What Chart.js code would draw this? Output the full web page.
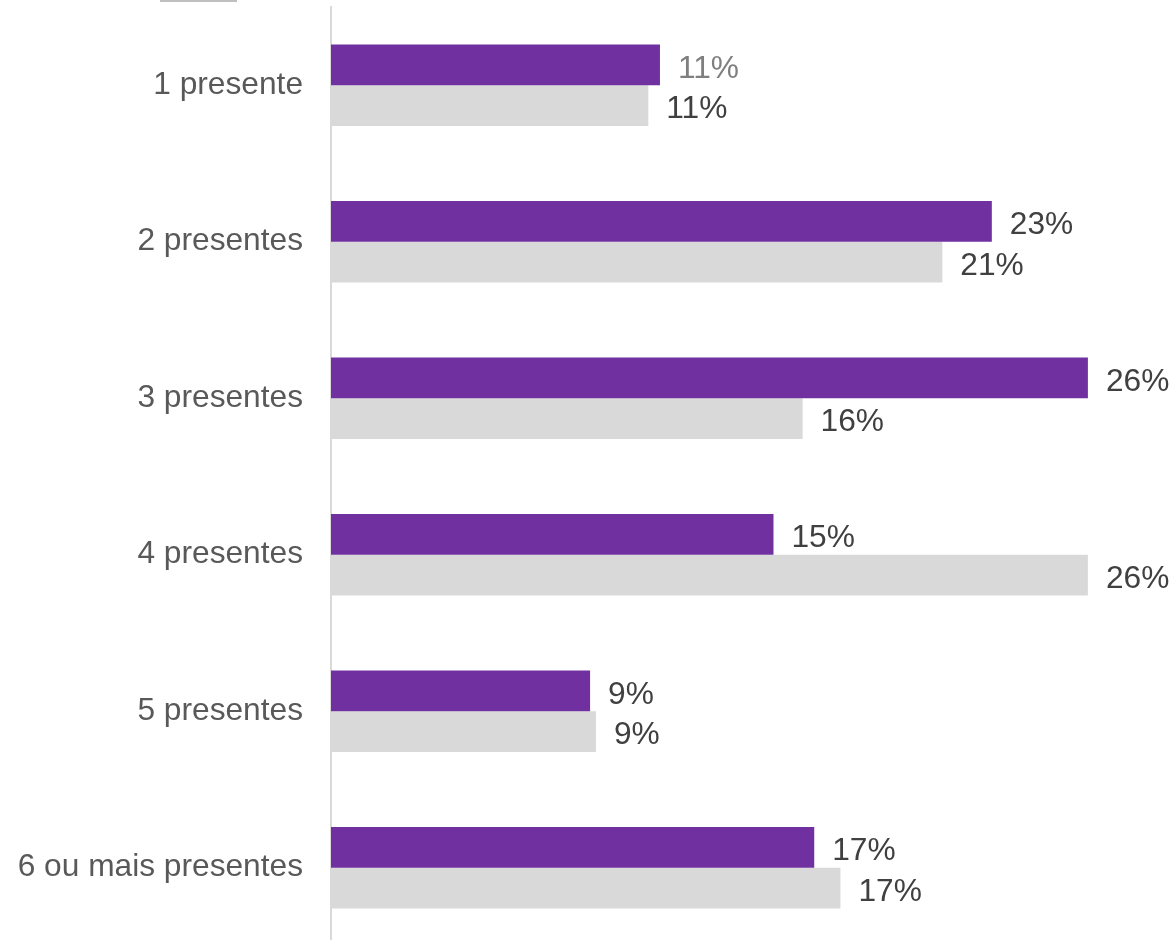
<!DOCTYPE html>
<html>
<head>
<meta charset="utf-8">
<script src="https://cdn.jsdelivr.net/npm/chart.js@4"></script>
<style>
    html, body { margin: 0; padding: 0; background: #fff; overflow: hidden; }
    #wrap { position: relative; width: 1174px; height: 946px; }
    #mark { position: absolute; left: 160px; top: 0; width: 77px; height: 2px; background: #bfbfbf; }
</style>
</head>
<body>
<div id="wrap">
    <canvas id="barChart" width="1174" height="946"></canvas>
    <div id="mark"></div>
</div>
<script>
const categories = ["1 presente", "2 presentes", "3 presentes", "4 presentes", "5 presentes", "6 ou mais presentes"];
const purpleValues = [11.3, 22.7, 26.0, 15.2, 8.9, 16.6];
const greyValues = [10.9, 21.0, 16.2, 26.0, 9.1, 17.5];
const purpleLabels = ["11%", "23%", "26%", "15%", "9%", "17%"];
const greyLabels = ["11%", "21%", "16%", "26%", "9%", "17%"];
const purpleLabelColors = ["#7f7f7f", "#404040", "#404040", "#404040", "#404040", "#404040"];

// draws the percentage text just right of each bar
const valueLabels = {
    id: "valueLabels",
    afterDatasetsDraw(chart) {
        const c = chart.ctx;
        c.save();
        c.font = "31.7px 'Liberation Sans', Arial, sans-serif";
        c.textBaseline = "middle";
        c.textAlign = "left";
        chart.data.datasets.forEach((ds, i) => {
            const meta = chart.getDatasetMeta(i);
            meta.data.forEach((bar, j) => {
                c.fillStyle = i === 0 ? purpleLabelColors[j] : "#404040";
                const txt = i === 0 ? purpleLabels[j] : greyLabels[j];
                c.fillText(txt, bar.x + 18, bar.y + 4);
            });
        });
        c.restore();
    }
};

const ctx = document.getElementById("barChart").getContext("2d");
new Chart(ctx, {
    type: "bar",
    data: {
        labels: categories,
        datasets: [
            {
                label: "A",
                data: purpleValues,
                backgroundColor: "#7030a0",
                categoryPercentage: 0.52,
                barPercentage: 1.0
            },
            {
                label: "B",
                data: greyValues,
                backgroundColor: "#d9d9d9",
                categoryPercentage: 0.52,
                barPercentage: 1.0
            }
        ]
    },
    plugins: [valueLabels],
    options: {
        indexAxis: "y",
        responsive: false,
        animation: false,
        layout: {
            padding: { top: 7, right: 57, bottom: 0, left: 0 }
        },
        plugins: {
            legend: { display: false },
            tooltip: { enabled: false }
        },
        scales: {
            x: {
                min: 0,
                max: 27,
                display: false
            },
            y: {
                grid: { display: false, drawTicks: false },
                border: { display: true, color: "#d9d9d9", width: 2 },
                ticks: {
                    color: "#595959",
                    padding: 28,
                    font: { family: "'Liberation Sans', Arial, sans-serif", size: 31.7 }
                },
                afterFit(scale) {
                    scale.width = 331;
                    scale.paddingTop = 0;
                    scale.paddingBottom = 0;
                }
            }
        }
    }
});
</script>
</body>
</html>
